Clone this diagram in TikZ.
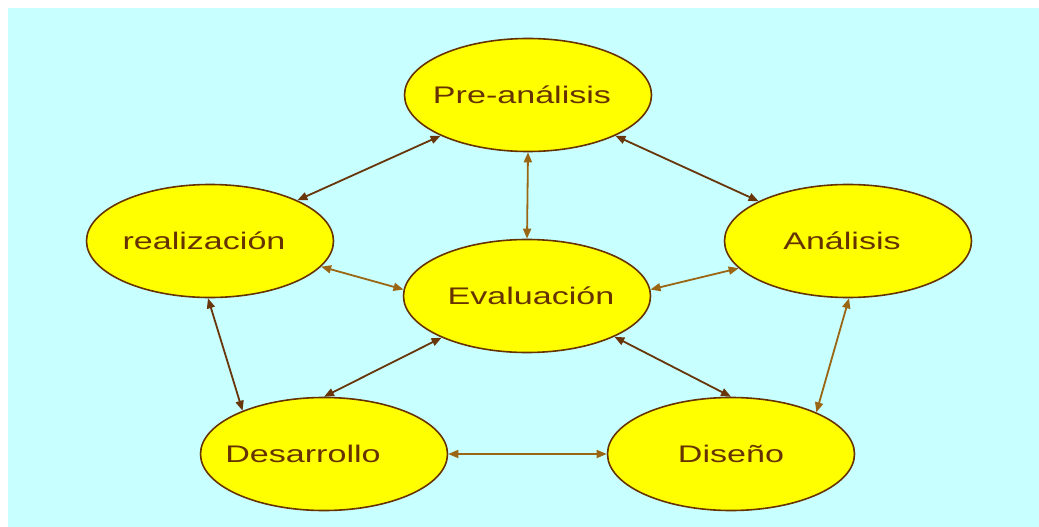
\documentclass[tikz,border=0pt]{standalone}
\usepackage{fontspec}
\setmainfont{Liberation Sans}
\usepackage{graphicx}
\usetikzlibrary{arrows.meta}
\usetikzlibrary{shapes.geometric}
\definecolor{bgcyan}{RGB}{200,255,255}
\definecolor{phasefill}{RGB}{255,255,0}
\definecolor{rim}{RGB}{102,51,0}
\definecolor{linkdark}{RGB}{104,54,10}
\definecolor{linklight}{RGB}{155,102,20}
\newcommand{\wide}[1]{\scalebox{1.42}[1]{#1}}

\begin{document}
\begin{tikzpicture}[x=1pt, y=-1pt,
  phase/.style={ellipse, draw=rim, line width=1.6pt, fill=phasefill,
                minimum width=247pt, minimum height=113pt, inner sep=0pt},
  tag/.style={text=rim, font=\fontsize{24}{28}\selectfont},
  link/.style={line width=1.8pt,
               {Triangle[length=10pt,width=8pt]}-{Triangle[length=10pt,width=8pt]}},
  dark/.style={link, draw=linkdark, fill=linkdark},
  light/.style={link, draw=linklight, fill=linklight}]
\useasboundingbox (0,0) rectangle (1039,527);
\fill[white] (0,0) rectangle (1039,527);
\fill[bgcyan] (8,8) rectangle (1039,527);
\node[phase, label={[tag, xshift=-6pt]center:\wide{Pre-análisis}}] (pre)  at (528,95)  {};
\node[phase, label={[tag, xshift=4pt]center:\wide{Evaluación}}]    (eval) at (527,296) {};
\node[phase, label={[tag, xshift=-6pt]center:\wide{realización}}]  (real) at (210,241) {};
\node[phase, label={[tag, xshift=-6pt]center:\wide{Análisis}}]     (ana)  at (848,241) {};
\node[phase, label={[tag, xshift=-21pt]center:\wide{Desarrollo}}]  (des)  at (324,454) {};
\node[phase, label={[tag]center:\wide{Diseño}}]                    (dis)  at (731,454) {};
\draw[dark]  (real.25)   -- (pre.-155);
\draw[dark]  (pre.-25)   -- (ana.156);
\draw[light] (pre.south) -- (eval.north);
\draw[light] (real.-13)  -- (eval.177);
\draw[light] (eval.3)    -- (ana.-166);
\draw[light] (ana.-89)   -- (dis.26);
\draw[dark]  (real.-92)  -- (des.152);
\draw[dark]  (eval.-25)  -- (dis.north);
\draw[dark]  (eval.-154) -- (des.north);
\draw[light] (des.east)  -- (dis.west);
\end{tikzpicture}
\end{document}
